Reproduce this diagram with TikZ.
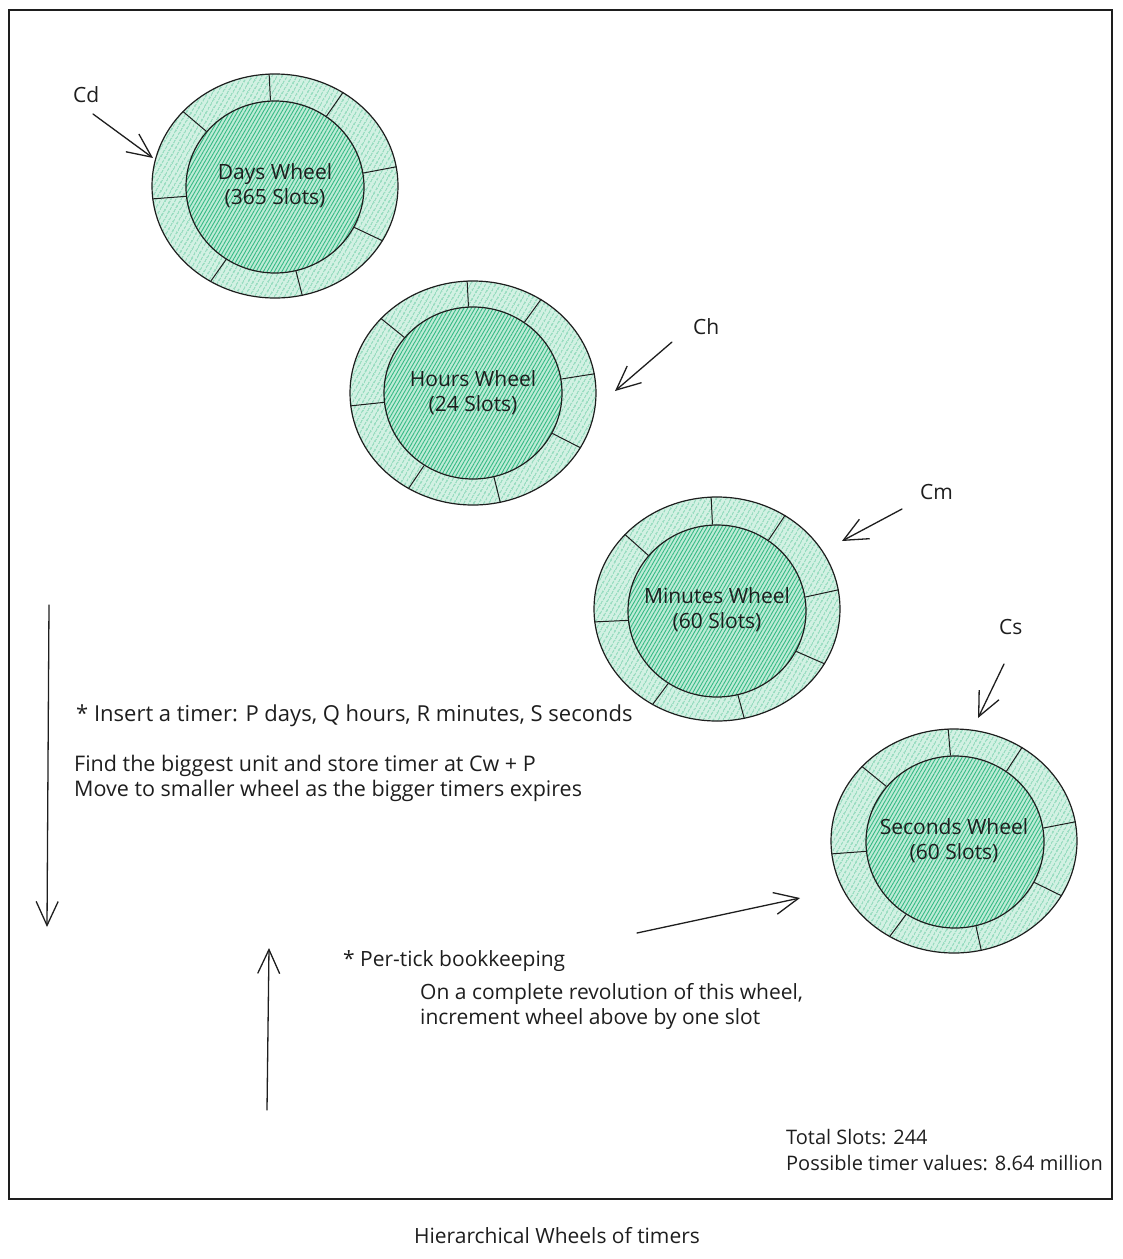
\documentclass[tikz,border=0pt]{standalone}
\usepackage{fontspec}
\setmainfont{Open Sans}
\usetikzlibrary{shapes.geometric,patterns.meta,arrows.meta}
\definecolor{ink}{HTML}{1E1E1E}
\definecolor{hach}{HTML}{35BA85}
\definecolor{ringbg}{HTML}{D2F1E3}
\definecolor{innerbg}{HTML}{BDEBD6}
\begin{document}
\begin{tikzpicture}[x=1pt,y=-1pt,
  wheel/.style={ellipse, draw=ink, line width=1.2pt, minimum width=246pt, minimum height=224pt, inner sep=0pt,
    preaction={fill=ringbg}, pattern={Lines[angle=60,distance=4pt,line width=0.9pt]}, pattern color=hach},
  hub/.style={ellipse, draw=ink, line width=1.2pt, minimum width=178pt, minimum height=172pt, inner sep=0pt,
    preaction={fill=innerbg}, pattern={Lines[angle=60,distance=3.2pt,line width=0.9pt]}, pattern color=hach},
  divider/.style={draw=ink, line width=1pt},
  txt/.style={font=\fontsize{21}{25}\selectfont, text=ink, inner sep=0pt},
  ptr/.style={draw=ink, line width=1.3pt, line cap=round, line join=round, -{Straight Barb[length=24pt,width=22pt]}},
  frame/.style={draw=ink, line width=1.3pt}
 ]
\useasboundingbox (0,0) rectangle (1123,1259);
\draw[frame] (9,10) rectangle (1112,1199);

% wheels
\node[wheel] (days) at (275,186) {};
\node[hub] (daysin) at (275,187) {};
\node[wheel] (hours) at (473,393) {};
\node[hub] (hoursin) at (473,393) {};
\node[wheel] (mins) at (717,609) {};
\node[hub] (minsin) at (717,611) {};
\node[wheel] (secs) at (954,841) {};
\node[hub] (secsin) at (955,842) {};

\foreach \w in {days,hours,mins,secs}{
  \foreach \a in {93,54,9,333,284,236,186,141}{
    \draw[divider] (\w in.\a) -- (\w.\a);
  }
}

\node[txt, align=center] (dayst) at (275,186) {Days Wheel\\(365 Slots)};
\node[txt, align=center] (hourst) at (473,393) {Hours Wheel\\(24 Slots)};
\node[txt, align=center] (minst) at (717,610) {Minutes Wheel\\(60 Slots)};
\node[txt, align=center] (secst) at (954,841) {Seconds Wheel\\(60 Slots)};

% pointer labels
\node[txt, anchor=west] (cd) at (73,95) {Cd};
\node[txt, anchor=west] (ch) at (693,327) {Ch};
\node[txt, anchor=west] (cm) at (920,492) {Cm};
\node[txt, anchor=west] (cs) at (999,627) {Cs};

\coordinate (cdS) at (93,114);  \coordinate (cdT) at (153,158);
\coordinate (chS) at (672,342); \coordinate (chT) at (615,391);
\coordinate (cmS) at (902,509); \coordinate (cmT) at (842,541);
\coordinate (csS) at (1004,664); \coordinate (csT) at (978,718);
\draw[ptr] (cdS) -- (cdT);
\draw[ptr] (chS) -- (chT);
\draw[ptr] (cmS) -- (cmT);
\draw[ptr] (csS) -- (csT);

% flow arrows
\coordinate (downS) at (49,605); \coordinate (downT) at (47,927);
\coordinate (upS) at (267,1110); \coordinate (upT) at (269,948);
\coordinate (rS) at (637,933); \coordinate (rT) at (800,898);
\draw[ptr] (downS) -- (downT);
\draw[ptr] (upS) -- (upT);
\draw[ptr] (rS) -- (rT);

% texts
\node[txt, font=\fontsize{22}{25}\selectfont, anchor=west] (ins) at (76,716) {* Insert a timer: P days, Q hours, R minutes, S seconds};
\node[txt, font=\fontsize{21.5}{25}\selectfont, anchor=west, align=left] (find) at (74,778) {Find the biggest unit and store timer at Cw + P\\Move to smaller wheel as the bigger timers expires};
\node[txt, anchor=west] (tick) at (343,961) {* Per-tick bookkeeping};
\node[txt, anchor=west, align=left] (rev) at (420,1006) {On a complete revolution of this wheel,\\increment wheel above by one slot};
\node[txt, font=\fontsize{20}{26}\selectfont, anchor=west, align=left] (tot) at (786,1150) {Total Slots: 244\\Possible timer values: 8.64 million};
\node[txt] (title) at (557,1236) {Hierarchical Wheels of timers};
\end{tikzpicture}
\end{document}
